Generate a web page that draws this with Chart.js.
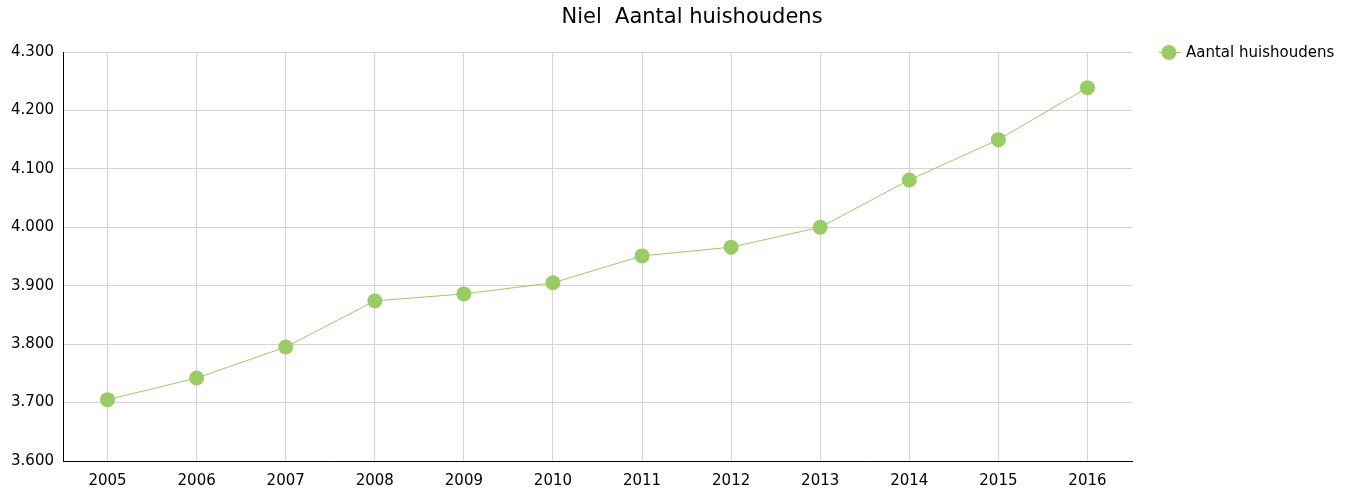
<!DOCTYPE html>
<html>
<head>
<meta charset="utf-8">
<script src="https://cdn.jsdelivr.net/npm/chart.js@4"></script>
<style>
html,body{margin:0;padding:0;background:#fff;}
#wrap{width:1352px;height:494px;position:relative;}
</style>
</head>
<body>
<div id="wrap"><canvas id="c" width="1352" height="494"></canvas></div>
<script>
const chartTitle = "Niel  Aantal huishoudens";
const seriesName = "Aantal huishoudens";
const years = ["2005","2006","2007","2008","2009","2010","2011","2012","2013","2014","2015","2016"];
const households = [3705, 3742, 3795, 3874, 3886, 3905, 3951, 3966, 4000, 4081, 4150, 4239];
const yMin = 3600, yMax = 4300, yStep = 100;

const FONT = "'DejaVu Sans', Verdana, sans-serif";
const GREEN = "#99cc66";

function fmt(v){ return String(v).replace(/\B(?=(\d{3})+(?!\d))/g, "."); }

const customDraw = {
  id: 'customDraw',
  afterDraw(chart){
    const ctx = chart.ctx;
    ctx.save();
    ctx.fillStyle = '#000';
    ctx.font = "21px " + FONT;
    ctx.textAlign = 'center';
    ctx.textBaseline = 'middle';
    ctx.fillText(chartTitle, 692, 18);
    // legend
    ctx.strokeStyle = GREEN;
    ctx.lineWidth = 1;
    ctx.beginPath(); ctx.moveTo(1159, 52.5); ctx.lineTo(1181, 52.5); ctx.stroke();
    ctx.fillStyle = GREEN;
    ctx.beginPath(); ctx.arc(1169, 52.5, 7.5, 0, Math.PI*2); ctx.fill();
    ctx.fillStyle = '#000';
    ctx.font = "15px " + FONT;
    ctx.textAlign = 'left';
    ctx.fillText(seriesName, 1186, 53);
    ctx.restore();
  }
};

new Chart(document.getElementById('c'), {
  type: 'line',
  data: {
    labels: years,
    datasets: [{
      label: seriesName,
      data: households,
      borderColor: GREEN,
      backgroundColor: GREEN,
      borderWidth: 1,
      pointRadius: 7.5,
      pointHoverRadius: 7.5,
      pointBorderWidth: 0,
      tension: 0,
      fill: false
    }]
  },
  options: {
    responsive: false,
    animation: false,
    events: [],
    layout: { padding: { top: 52, right: 220, left: 0, bottom: 0 } },
    plugins: { legend: { display: false }, title: { display: false }, tooltip: { enabled: false } },
    scales: {
      x: {
        offset: true,
        grid: { offset: false, color: '#d4d4d4', drawTicks: false },
        border: { color: '#000', width: 1 },
        ticks: { color: '#000', font: { family: FONT, size: 15 }, padding: 11, maxRotation: 0 },
        afterFit(s){ s.height = 33; }
      },
      y: {
        min: yMin, max: yMax,
        grid: { color: '#d4d4d4', drawTicks: false },
        border: { color: '#000', width: 1 },
        ticks: { stepSize: yStep, color: '#000', font: { family: FONT, size: 15 }, padding: 9, callback: v => fmt(v) },
        afterFit(s){ s.width = 63; }
      }
    }
  },
  plugins: [customDraw]
});
</script>
</body>
</html>
